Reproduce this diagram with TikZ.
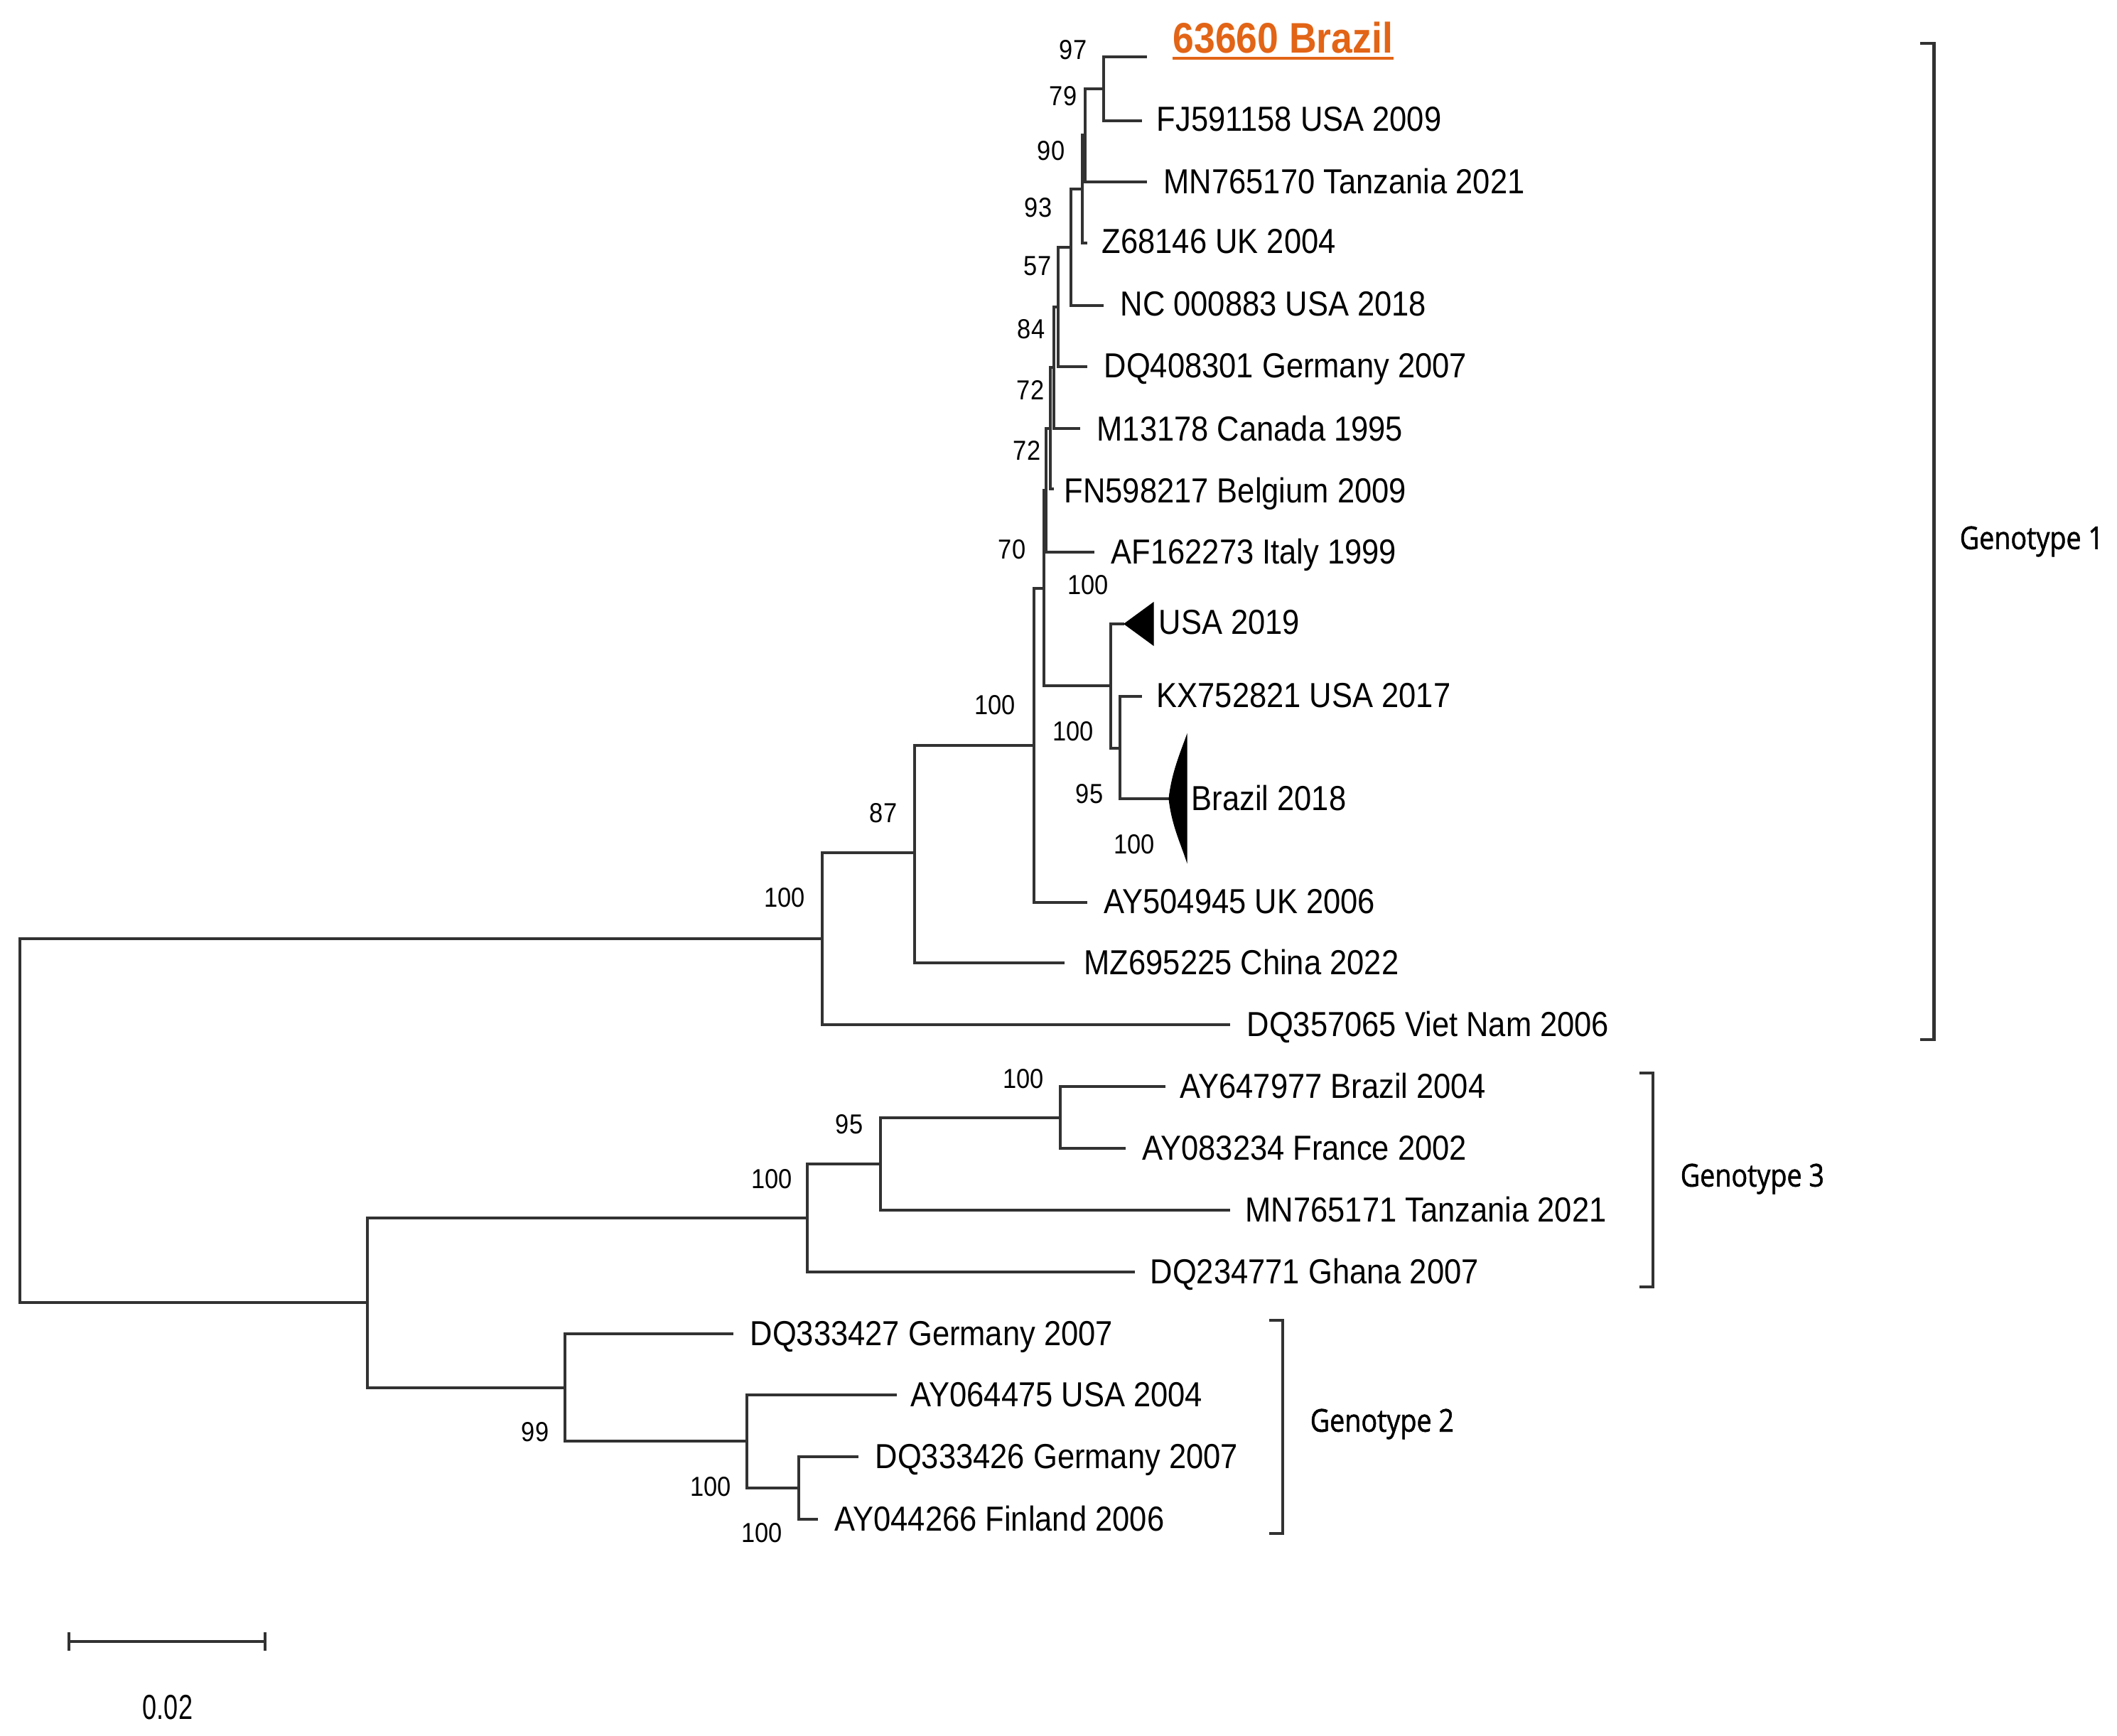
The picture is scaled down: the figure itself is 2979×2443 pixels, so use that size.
\documentclass[tikz,border=0pt]{standalone}
\usepackage{fontspec}
\newfontfamily\leaffont{Liberation Sans}[FakeStretch=0.89]
\newfontfamily\genofont{Open Sans}[FakeStretch=0.85,FakeBold=1.2]
\definecolor{brorange}{RGB}{226,100,22}
\definecolor{treeline}{RGB}{50,50,50}
\begin{document}
\begin{tikzpicture}[x=0.01cm,y=-0.01cm,
  br/.style={draw=treeline,line width=1.3pt},
  leaf/.style={anchor=base west,inner sep=0pt,font=\leaffont\fontsize{13.9pt}{14pt}\selectfont},
  boot/.style={inner sep=0pt,font=\leaffont\fontsize{11pt}{11pt}\selectfont},
  geno/.style={anchor=west,inner sep=0pt,font=\genofont\fontsize{12.6pt}{13pt}\selectfont},
  brk/.style={draw=treeline,line width=1.4pt},
  collapsed/.style={fill=black,draw=black,line width=0.3pt}]
\useasboundingbox[fill=white] (0,0) rectangle (2979,2443);

% internal nodes
\coordinate (root) at (28,1577);
\coordinate (NG1) at (1157,1321);
\coordinate (N87) at (1287,1200);
\coordinate (N100) at (1455,1049);
\coordinate (N70) at (1469,828);
\coordinate (N72b) at (1472,690);
\coordinate (N72a) at (1478,603);
\coordinate (N84) at (1483,517);
\coordinate (N57) at (1489,432);
\coordinate (N93) at (1507,348);
\coordinate (N90) at (1523,266);
\coordinate (N79) at (1527,190);
\coordinate (N97) at (1553,125);
\coordinate (N100c) at (1563,965);
\coordinate (N100d) at (1576,1053);
\coordinate (NG23) at (517,1833);
\coordinate (NG3) at (1136,1714);
\coordinate (N95) at (1239,1638);
\coordinate (N100g) at (1492,1573);
\coordinate (NG2) at (795,1953);
\coordinate (N100a) at (1051,2028);
\coordinate (N100b) at (1124,2094);

% leaf tips
\coordinate (L1) at (1614,80);
\coordinate (L2) at (1607,170);
\coordinate (L3) at (1614,256);
\coordinate (L4) at (1530,342);
\coordinate (L5) at (1553,430);
\coordinate (L6) at (1530,516);
\coordinate (L7) at (1520,603);
\coordinate (L8) at (1483,688);
\coordinate (L9) at (1540,777);
\coordinate (T1) at (1582,878);
\coordinate (L10) at (1607,980);
\coordinate (T2) at (1645,1124);
\coordinate (L11) at (1530,1270);
\coordinate (L12) at (1498,1355);
\coordinate (L13) at (1731,1442);
\coordinate (L14) at (1640,1529);
\coordinate (L15) at (1584,1616);
\coordinate (L16) at (1731,1703);
\coordinate (L17) at (1597,1790);
\coordinate (L18) at (1032,1877);
\coordinate (L19) at (1262,1963);
\coordinate (L20) at (1208,2050);
\coordinate (L21) at (1151,2138);

% branches
\draw[br] (root) |- (NG1);  \draw[br] (root) |- (NG23);
\draw[br] (NG1) |- (N87);   \draw[br] (NG1) |- (L13);
\draw[br] (N87) |- (N100);  \draw[br] (N87) |- (L12);
\draw[br] (N100) |- (N70);  \draw[br] (N100) |- (L11);
\draw[br] (N70) |- (N72b);  \draw[br] (N70) |- (N100c);
\draw[br] (N72b) |- (N72a); \draw[br] (N72b) |- (L9);
\draw[br] (N72a) |- (N84);  \draw[br] (N72a) |- (L8);
\draw[br] (N84) |- (N57);   \draw[br] (N84) |- (L7);
\draw[br] (N57) |- (N93);   \draw[br] (N57) |- (L6);
\draw[br] (N93) |- (N90);   \draw[br] (N93) |- (L5);
\draw[br] (N90) |- (N79);   \draw[br] (N90) |- (L4);
\draw[br] (N79) |- (N97);   \draw[br] (N79) |- (L3);
\draw[br] (N97) |- (L1);    \draw[br] (N97) |- (L2);
\draw[br] (N100c) |- (T1);  \draw[br] (N100c) |- (N100d);
\draw[br] (N100d) |- (L10); \draw[br] (N100d) |- (T2);
\draw[br] (NG23) |- (NG3);  \draw[br] (NG23) |- (NG2);
\draw[br] (NG3) |- (N95);   \draw[br] (NG3) |- (L17);
\draw[br] (N95) |- (N100g); \draw[br] (N95) |- (L16);
\draw[br] (N100g) |- (L14); \draw[br] (N100g) |- (L15);
\draw[br] (NG2) |- (L18);   \draw[br] (NG2) |- (N100a);
\draw[br] (N100a) |- (L19); \draw[br] (N100a) |- (N100b);
\draw[br] (N100b) |- (L20); \draw[br] (N100b) |- (L21);

% collapsed clades
\coordinate (T1a) at (1623,848);
\coordinate (T1b) at (1623,908);
\fill[collapsed] (T1) -- (T1a) -- (T1b) -- cycle;
\coordinate (T2a) at (1670,1035);
\coordinate (T2b) at (1670,1212);
\fill[collapsed] (T2) .. controls (1649,1088) and (1661,1060) .. (T2a) -- (T2b) .. controls (1661,1185) and (1649,1160) .. (T2) -- cycle;

% leaf labels
\node[leaf,text=brorange,font=\leaffont\bfseries\fontsize{17.1pt}{18pt}\selectfont] (t1) at (1650,75) {63660 Brazil};
\draw[brorange,line width=1.1pt] ([yshift=-1.9pt]t1.base west) -- ([yshift=-1.9pt]t1.base east);
\node[leaf] (t2) at (1627,185) {FJ591158 USA 2009};
\node[leaf] (t3) at (1637,273) {MN765170 Tanzania 2021};
\node[leaf] (t4) at (1550,357) {Z68146 UK 2004};
\node[leaf] (t5) at (1576,445) {NC 000883 USA 2018};
\node[leaf] (t6) at (1553,532) {DQ408301 Germany 2007};
\node[leaf] (t7) at (1543,620) {M13178 Canada 1995};
\node[leaf] (t8) at (1497,707) {FN598217 Belgium 2009};
\node[leaf] (t9) at (1563,793) {AF162273 Italy 1999};
\node[leaf] (tT1) at (1630,892) {USA 2019};
\node[leaf] (t10) at (1627,995) {KX752821 USA 2017};
\node[leaf] (tT2) at (1676,1140) {Brazil 2018};
\node[leaf] (t11) at (1553,1285) {AY504945 UK 2006};
\node[leaf] (t12) at (1525,1371) {MZ695225 China 2022};
\node[leaf] (t13) at (1754,1458) {DQ357065 Viet Nam 2006};
\node[leaf] (t14) at (1660,1545) {AY647977 Brazil 2004};
\node[leaf] (t15) at (1607,1632) {AY083234 France 2002};
\node[leaf] (t16) at (1752,1719) {MN765171 Tanzania 2021};
\node[leaf] (t17) at (1618,1806) {DQ234771 Ghana 2007};
\node[leaf] (t18) at (1055,1893) {DQ333427 Germany 2007};
\node[leaf] (t19) at (1281,1979) {AY064475 USA 2004};
\node[leaf] (t20) at (1231,2066) {DQ333426 Germany 2007};
\node[leaf] (t21) at (1174,2154) {AY044266 Finland 2006};

% bootstrap values
\node[boot] (b1) at (1510,70) {97};
\node[boot] (b2) at (1496,135) {79};
\node[boot] (b3) at (1479,212) {90};
\node[boot] (b4) at (1461,292) {93};
\node[boot] (b5) at (1460,374) {57};
\node[boot] (b6) at (1451,463) {84};
\node[boot] (b7) at (1450,549) {72};
\node[boot] (b8) at (1445,634) {72};
\node[boot] (b9) at (1424,773) {70};
\node[boot] (b10) at (1531,823) {100};
\node[boot] (b11) at (1400,992) {100};
\node[boot] (b12) at (1510,1029) {100};
\node[boot] (b13) at (1533,1117) {95};
\node[boot] (b14) at (1596,1188) {100};
\node[boot] (b15) at (1243,1144) {87};
\node[boot] (b16) at (1104,1263) {100};
\node[boot] (b17) at (1440,1518) {100};
\node[boot] (b18) at (1195,1582) {95};
\node[boot] (b19) at (1086,1659) {100};
\node[boot] (b20) at (753,2015) {99};
\node[boot] (b21) at (1000,2092) {100};
\node[boot] (b22) at (1072,2157) {100};

% genotype brackets
\coordinate (g1a) at (2702,61);  \coordinate (g1b) at (2721,61);
\coordinate (g1c) at (2721,1463); \coordinate (g1d) at (2702,1463);
\draw[brk] (g1a) -- (g1b) -- (g1c) -- (g1d);
\node[geno] (gl1) at (2757,762) {Genotype 1};
\coordinate (g3a) at (2307,1510); \coordinate (g3b) at (2326,1510);
\coordinate (g3c) at (2326,1811); \coordinate (g3d) at (2307,1811);
\draw[brk] (g3a) -- (g3b) -- (g3c) -- (g3d);
\node[geno] (gl3) at (2364,1659) {Genotype 3};
\coordinate (g2a) at (1786,1858); \coordinate (g2b) at (1805,1858);
\coordinate (g2c) at (1805,2158); \coordinate (g2d) at (1786,2158);
\draw[brk] (g2a) -- (g2b) -- (g2c) -- (g2d);
\node[geno] (gl2) at (1843,2004) {Genotype 2};

% scale bar
\coordinate (sbL) at (97,2310); \coordinate (sbR) at (373,2310);
\coordinate (sbLt) at (97,2297); \coordinate (sbLb) at (97,2323);
\coordinate (sbRt) at (373,2297); \coordinate (sbRb) at (373,2323);
\draw[br] (sbL) -- (sbR);
\draw[br] (sbLt) -- (sbLb);
\draw[br] (sbRt) -- (sbRb);
\node[inner sep=0pt,font=\leaffont\fontsize{13.9pt}{14pt}\selectfont,xscale=0.83] (sbt) at (236,2403) {0.02};
\end{tikzpicture}
\end{document}
